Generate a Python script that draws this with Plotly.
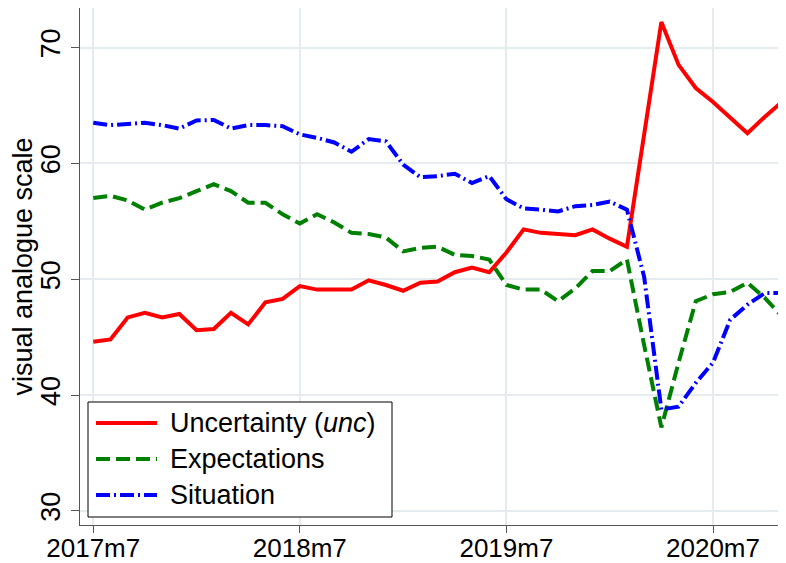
import plotly.graph_objects as go

months = [f"{2017 + (6 + i) // 12}m{(6 + i) % 12 + 1}" for i in range(41)]

uncertainty = [44.6, 44.8, 46.7, 47.1, 46.7, 47.0, 45.6, 45.7, 47.1, 46.1, 48.0,
               48.3, 49.4, 49.1, 49.1, 49.1, 49.9, 49.5, 49.0, 49.7, 49.8, 50.6,
               51.0, 50.6, 52.3, 54.3, 54.0, 53.9, 53.8, 54.3, 53.5, 52.8, 62.5,
               72.2, 68.5, 66.5, 65.3, 64.0, 62.6, 64.0, 65.3]
expectations = [57.0, 57.2, 56.8, 56.0, 56.6, 57.0, 57.6, 58.2, 57.6, 56.6, 56.6,
                55.6, 54.8, 55.6, 54.9, 54.0, 53.9, 53.6, 52.4, 52.7, 52.8, 52.1,
                52.0, 51.7, 49.5, 49.1, 49.1, 48.1, 49.2, 50.7, 50.7, 51.7, 44.3,
                37.2, 42.8, 48.1, 48.7, 48.9, 49.7, 48.4, 46.8]
situation = [63.5, 63.3, 63.4, 63.5, 63.3, 63.0, 63.7, 63.75, 63.0, 63.3, 63.3,
             63.2, 62.5, 62.2, 61.8, 61.0, 62.1, 61.9, 59.9, 58.8, 58.9, 59.1,
             58.3, 58.9, 56.9, 56.1, 56.0, 55.85, 56.3, 56.4, 56.7, 56.0, 50.2,
             38.75, 39.0, 41.05, 42.8, 46.5, 47.8, 48.8, 48.8]

tick_labels = ["2017m7", "2018m7", "2019m7", "2020m7"]
y_ticks = [30, 40, 50, 60, 70]

x = list(range(len(months)))
tick_vals = [months.index(t) for t in tick_labels]

series = [
    ("Uncertainty (<i>unc</i>)", uncertainty, "#ff0000", "solid"),
    ("Expectations", expectations, "#008000", "14px,6px"),
    ("Situation", situation, "#0000ff", "14px,4px,2px,4px"),
]

fig = go.Figure()
for name, values, color, dash in series:
    fig.add_trace(
        go.Scatter(
            x=x,
            y=values,
            mode="lines",
            name=name,
            line={"color": color, "width": 4, "dash": dash},
            showlegend=False,
        )
    )

# hand-drawn legend box (Stata style, long line samples); page pixel -> paper
W, H, L, B = 706, 517, 80, 525


def px(v):
    return (v - L) / W


def py(v):
    return (B - v) / H


fig.add_shape(
    type="rect", xref="paper", yref="paper",
    x0=px(88), x1=px(392), y0=py(517), y1=py(402),
    line={"color": "#000000", "width": 1}, fillcolor="#ffffff", layer="above",
)
for k, (name, values, color, dash) in enumerate(series):
    yy = py(423 + 36 * k)
    fig.add_shape(
        type="line", xref="paper", yref="paper",
        x0=px(96), x1=px(157), y0=yy, y1=yy,
        line={"color": color, "width": 4, "dash": dash}, layer="above",
    )
    fig.add_annotation(
        xref="paper", yref="paper", x=px(168), y=yy, text=name,
        showarrow=False, xanchor="left", yanchor="middle",
        font={"size": 27, "color": "#000000"},
    )

# the page body keeps its default 8px margin, so the figure is 8px smaller
fig.update_layout(
    width=778,
    height=555,
    margin={"l": 72, "r": 0, "t": 0, "b": 38},
    plot_bgcolor="#ffffff",
    paper_bgcolor="#ffffff",
    font={"family": "Liberation Sans, Arial, sans-serif", "size": 27, "color": "#000000"},
)
fig.update_xaxes(
    range=[-0.77, 40.24],
    tickvals=tick_vals,
    ticktext=tick_labels,
    ticks="outside",
    ticklen=7,
    tickcolor="#555555",
    showline=True,
    linecolor="#555555",
    linewidth=1.2,
    showgrid=True,
    gridcolor="#e4ecef",
    gridwidth=1.5,
    zeroline=False,
    tickfont={"size": 26},
    ticklabelstandoff=-7,
    automargin=False,
)
fig.update_yaxes(
    range=[28.78, 73.41],
    tickvals=y_ticks,
    tickangle=-90,
    ticks="outside",
    ticklen=8,
    tickcolor="#555555",
    showline=True,
    linecolor="#555555",
    linewidth=1.2,
    showgrid=True,
    gridcolor="#e4ecef",
    gridwidth=1.5,
    zeroline=False,
    automargin=False,
    tickfont={"size": 27},
    title={"text": "visual analogue scale", "font": {"size": 27}, "standoff": 6},
)

fig.write_html("out.html")
